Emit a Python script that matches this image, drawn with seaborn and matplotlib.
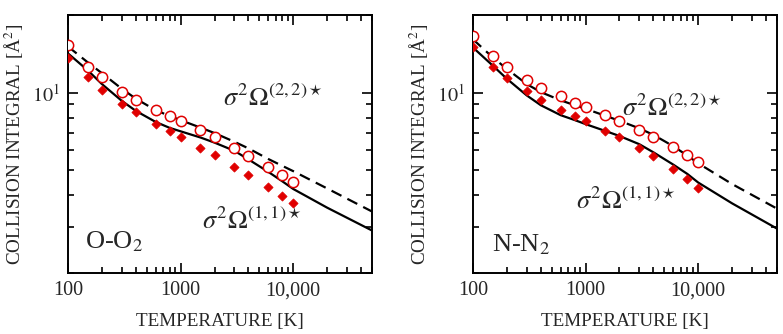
import matplotlib
matplotlib.use("Agg")
import matplotlib.pyplot as plt
import matplotlib.ticker as mticker
import pandas as pd
import seaborn as sns

# Temperatures of the data points and of the fitted curves [K]
temps_pts = [100, 150, 200, 300, 400, 600, 800, 1000, 1500, 2000, 3000, 4000, 6000, 8000, 10000]
temps_fit = [100, 150, 200, 300, 400, 600, 800, 1000, 1500, 2000, 3000, 4000, 6000, 8000, 10000, 20000, 50000]

# O-O2
oo2_omega22_pts = [15.26, 12.62, 11.45, 10.09, 9.37, 8.58, 8.14, 7.78, 7.14, 6.71, 6.09, 5.67, 5.13, 4.80, 4.52]
oo2_omega11_pts = [13.6, 11.52, 10.24, 9.05, 8.38, 7.58, 7.08, 6.73, 6.10, 5.71, 5.16, 4.80, 4.30, 3.98, 3.73]
oo2_omega22_fit = [15.1, 13.1, 11.9, 10.36, 9.48, 8.55, 8.12, 7.82, 7.32, 6.97, 6.45, 6.08, 5.53, 5.2, 4.96, 4.25, 3.46]
oo2_omega11_fit = [14.2, 12.2, 10.8, 9.3, 8.5, 7.7, 7.3, 7.08, 6.7, 6.4, 5.95, 5.51, 4.93, 4.53, 4.23, 3.58, 2.92]

# N-N2
nn2_omega22_pts = [16.61, 13.92, 12.55, 11.15, 10.45, 9.68, 9.15, 8.80, 8.18, 7.78, 7.16, 6.75, 6.18, 5.74, 5.38]
nn2_omega11_pts = [15.07, 12.62, 11.42, 10.14, 9.40, 8.60, 8.11, 7.76, 7.10, 6.71, 6.12, 5.70, 5.07, 4.64, 4.27]
nn2_omega22_fit = [16.1, 13.7, 12.36, 10.8, 10.05, 9.34, 8.94, 8.66, 8.13, 7.78, 7.27, 6.86, 6.2, 5.7, 5.32, 4.42, 3.55]
nn2_omega11_fit = [14.97, 12.73, 11.32, 9.76, 8.94, 8.18, 7.83, 7.55, 7.1, 6.79, 6.31, 5.87, 5.26, 4.84, 4.48, 3.72, 2.97]

RED = "#e00000"

sns.set_style("ticks")
plt.rcParams["font.family"] = ["Liberation Serif", "DejaVu Serif"]
plt.rcParams["mathtext.fontset"] = "stix"


def draw_panel(ax, pts22, pts11, fit22, fit11, species, lab22_xy, lab11_xy, species_xy):
    df_fit = pd.DataFrame({"T": temps_fit, "o22": fit22, "o11": fit11})
    df_pts = pd.DataFrame({"T": temps_pts, "o22": pts22, "o11": pts11})

    sns.lineplot(data=df_fit, x="T", y="o22", ax=ax, color="black",
                 linewidth=1.6, linestyle=(0, (5, 3)))
    sns.lineplot(data=df_fit, x="T", y="o11", ax=ax, color="black", linewidth=1.6)
    sns.scatterplot(data=df_pts, x="T", y="o22", ax=ax, marker="o", s=55,
                    facecolor="white", edgecolor=RED, linewidth=1.1, zorder=3)
    sns.scatterplot(data=df_pts, x="T", y="o11", ax=ax, marker="D", s=22,
                    color=RED, edgecolor=RED, linewidth=0.5, zorder=3)

    ax.set_xscale("log")
    ax.set_yscale("log")
    ax.set_xlim(100, 50000)
    ax.set_ylim(2, 20)

    ax.xaxis.set_major_locator(mticker.FixedLocator([100, 1000, 10000]))
    ax.xaxis.set_major_formatter(mticker.FixedFormatter(["100", "1000", "10,000"]))
    ax.xaxis.set_minor_locator(mticker.LogLocator(base=10, subs=range(2, 10)))
    ax.yaxis.set_major_locator(mticker.FixedLocator([10]))
    ax.yaxis.set_major_formatter(mticker.FixedFormatter([r"$10^1$"]))
    ax.yaxis.set_minor_locator(mticker.LogLocator(base=10, subs=range(2, 10)))
    ax.yaxis.set_minor_formatter(mticker.NullFormatter())

    ax.tick_params(which="both", direction="in", top=True, right=True,
                   color="black", width=1.2)
    ax.tick_params(which="major", length=7, labelsize=14.5, pad=6)
    ax.tick_params(which="minor", length=4)
    for sp in ax.spines.values():
        sp.set_visible(True)
        sp.set_linewidth(1.4)
        sp.set_color("black")

    ax.set_xlabel("TEMPERATURE [K]", fontsize=13.8, labelpad=9)
    ax.set_ylabel("COLLISION INTEGRAL [Å$^2$]", fontsize=13.8, labelpad=4)

    ax.text(*lab22_xy, r"$\sigma^2\Omega^{(2,2)\star}$", transform=ax.transAxes,
            fontsize=19, ha="left", va="center")
    ax.text(*lab11_xy, r"$\sigma^2\Omega^{(1,1)\star}$", transform=ax.transAxes,
            fontsize=19, ha="left", va="center")
    ax.text(*species_xy, species, transform=ax.transAxes, fontsize=19,
            ha="left", va="center")


fig, axes = plt.subplots(1, 2, figsize=(7.83, 3.34), dpi=100)
fig.subplots_adjust(left=0.0868, right=0.9923, bottom=0.183, top=0.955, wspace=0.332)

draw_panel(axes[0], oo2_omega22_pts, oo2_omega11_pts, oo2_omega22_fit, oo2_omega11_fit,
           r"O-O$_2$", (0.51, 0.68), (0.44, 0.20), (0.055, 0.12))
draw_panel(axes[1], nn2_omega22_pts, nn2_omega11_pts, nn2_omega22_fit, nn2_omega11_fit,
           r"N-N$_2$", (0.49, 0.64), (0.34, 0.28), (0.062, 0.11))

fig.savefig("out.png", dpi=100)
plt.close(fig)
